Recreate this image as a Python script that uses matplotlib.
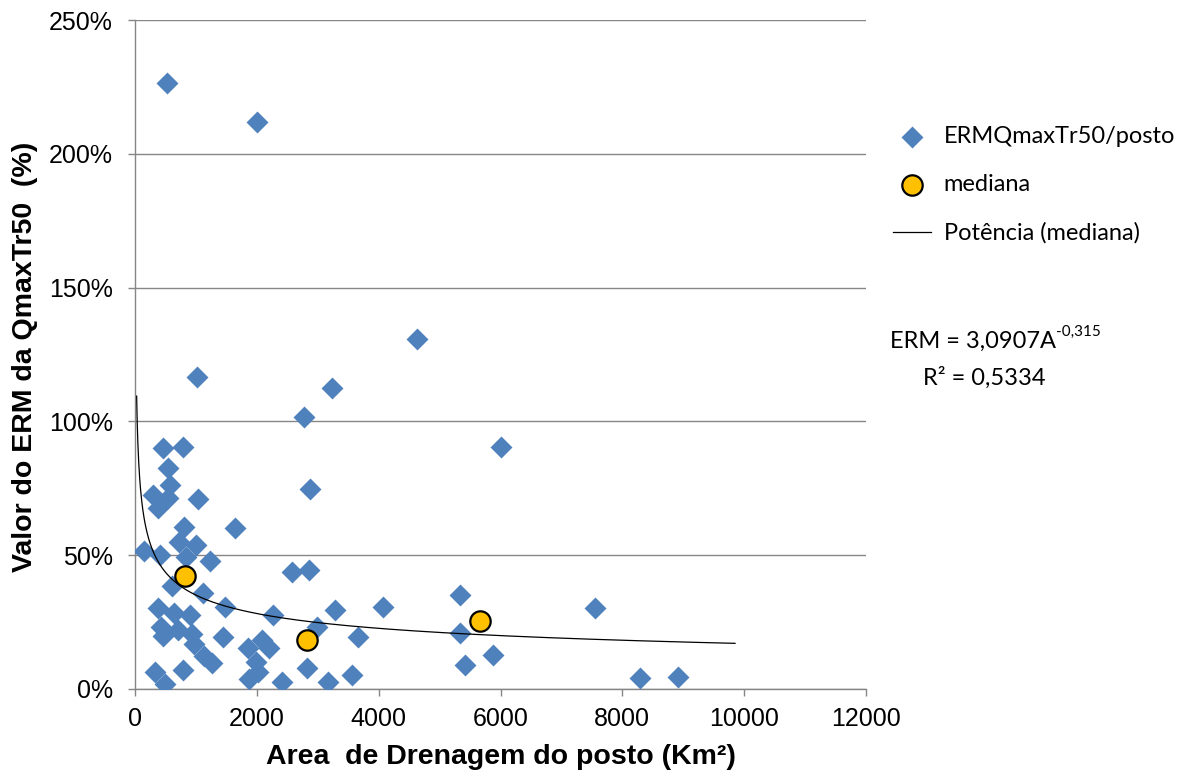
import numpy as np
import matplotlib
matplotlib.use("Agg")
import matplotlib.pyplot as plt
from matplotlib.ticker import FuncFormatter

# Área de drenagem (km²) e erro relativo médio (%) da QmaxTr50 por posto
area_posto = [
    525, 2003, 4629, 1018, 3234, 2774, 6008, 460, 788, 542,
    575, 295, 542, 378, 1034, 2873, 1642, 804, 722, 1001,
    837, 148, 410, 1231, 607, 1116, 1477, 378, 640, 903,
    427, 706, 936, 460, 1445, 968, 1133, 1264, 328, 788,
    492, 2265, 2577, 2856, 1855, 2085, 2200, 1986, 1871, 2019,
    2413, 2823, 3168, 3283, 2988, 3661, 3562, 4071, 5335, 5335,
    5417, 5877, 7551, 8290, 8913,
]
erm_posto = [
    226.5, 211.9, 130.8, 116.6, 112.5, 101.6, 90.4, 90.1, 90.4, 82.6,
    76.2, 72.5, 71.4, 67.6, 71.0, 74.7, 60.2, 60.5, 54.9, 53.8,
    49.3, 51.6, 50.1, 47.8, 38.5, 35.9, 30.6, 30.3, 28.4, 27.7,
    23.2, 22.0, 20.6, 19.8, 19.4, 16.8, 12.3, 9.7, 6.4, 7.1,
    1.9, 27.7, 43.7, 44.5, 15.3, 18.3, 15.3, 10.1, 3.7, 6.4,
    2.6, 7.8, 2.6, 29.5, 23.2, 19.4, 5.2, 30.6, 35.1, 20.9,
    9.0, 12.7, 30.3, 4.1, 4.5,
]

# Medianas por faixa de área
area_mediana = [821, 2823, 5663]
erm_mediana = [42.2, 18.3, 25.4]

# Ajuste potência das medianas: ERM = a * A^b
coef_a = 3.0907
expoente_b = -0.315
r2 = "0,5334"
area_ajuste_min, area_ajuste_max = 27, 9850

x_ticks = [0, 2000, 4000, 6000, 8000, 10000, 12000]
y_ticks = [0, 50, 100, 150, 200, 250]

AZUL = "#4F81BD"
AMARELO = "#FFC000"
CINZA = "#868686"
ARIAL = ["Liberation Sans", "DejaVu Sans"]
CALIBRI = ["Lato", "DejaVu Sans"]

fig = plt.figure(figsize=(11.92, 7.78), dpi=100)
ax = fig.add_axes([135 / 1192, 1 - 689 / 778, 731 / 1192, 669 / 778])

ax.scatter(area_posto, erm_posto, marker="D", s=125, color=AZUL,
           linewidths=0, zorder=3, label="ERMQmaxTr50/posto")
ax.scatter(area_mediana, erm_mediana, marker="o", s=215, facecolor=AMARELO,
           edgecolor="black", linewidths=1.6, zorder=4, label="mediana")

a_curva = np.linspace(area_ajuste_min, area_ajuste_max, 2000)
erm_curva = coef_a * a_curva ** expoente_b * 100
ax.plot(a_curva, erm_curva, color="black", lw=0.9, zorder=5,
        label="Potência (mediana)")

ax.set_xlim(x_ticks[0], x_ticks[-1])
ax.set_ylim(y_ticks[0], y_ticks[-1])
ax.set_xticks(x_ticks)
ax.set_yticks(y_ticks)
ax.yaxis.set_major_formatter(FuncFormatter(lambda v, p: f"{int(v)}%"))

ax.yaxis.grid(True, color=CINZA, lw=1.0)
ax.set_axisbelow(True)
for s in ("top", "right"):
    ax.spines[s].set_visible(False)
for s in ("left", "bottom"):
    ax.spines[s].set_color(CINZA)
    ax.spines[s].set_linewidth(1.0)

ax.tick_params(axis="both", direction="out", length=5, width=1.0,
               color=CINZA, labelcolor="black")
ax.tick_params(axis="y", pad=11)
ax.tick_params(axis="x", pad=8)
for lab in ax.get_xticklabels() + ax.get_yticklabels():
    lab.set_fontfamily(ARIAL)
    lab.set_fontsize(18)

fig.text(501 / 1192, 1 - 757 / 778, "Area  de Drenagem do posto (Km²)",
         ha="center", va="center", fontsize=20.5, fontweight="bold",
         family=ARIAL)
fig.text(25 / 1192, 1 - 357 / 778, "Valor do ERM da QmaxTr50  (%)",
         ha="center", va="center", rotation=90, fontsize=20.5,
         fontweight="bold", family=ARIAL)

leg = ax.legend(loc="upper left", bbox_to_anchor=(893 / 1192, 1 - 126 / 778),
                bbox_transform=fig.transFigure, frameon=False,
                prop={"family": CALIBRI, "size": 17}, handlelength=1.6,
                handletextpad=0.55, labelspacing=1.15, borderpad=0,
                borderaxespad=0, scatterpoints=1)

# Equação do ajuste, com o expoente como sobrescrito
eq = fig.text(890 / 1192, 1 - 341 / 778, "ERM = 3,0907A",
              ha="left", va="center", fontsize=17, family=CALIBRI)
ax.annotate("-0,315", xy=(1.0, 0.62), xycoords=eq, ha="left", va="bottom",
            fontsize=11, family=CALIBRI, annotation_clip=False)
fig.text(923 / 1192, 1 - 378 / 778, f"R² = {r2}",
         ha="left", va="center", fontsize=17, family=CALIBRI)

fig.savefig("out.png", dpi=100)
